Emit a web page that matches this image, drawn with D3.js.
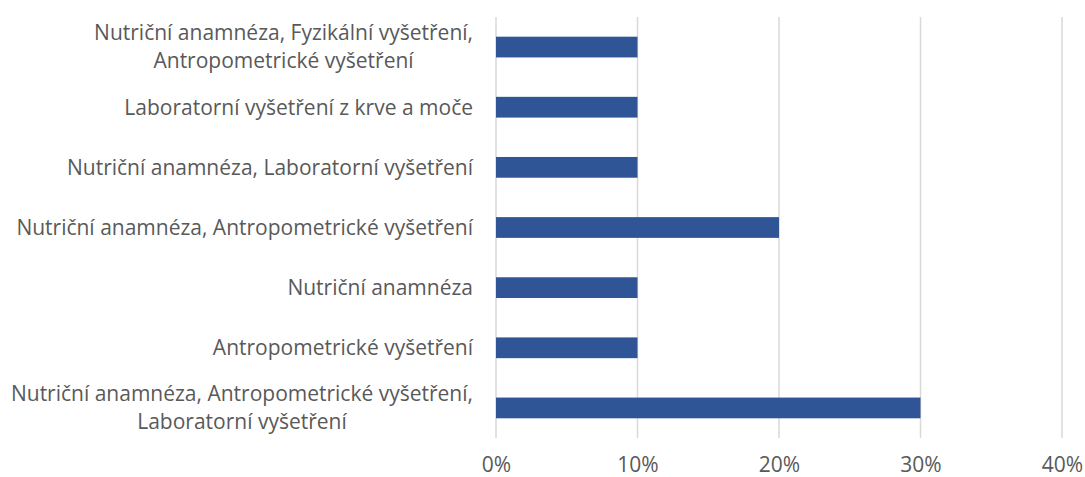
<!DOCTYPE html>
<html>
<head>
<meta charset="utf-8">
<script src="https://cdn.jsdelivr.net/npm/d3@7"></script>
<style>
  body { margin: 0; background: #fff; }
  svg text { font-family: "Open Sans", sans-serif; fill: #595959; }
</style>
</head>
<body>
<div id="chart"></div>
<script>
// categories, top to bottom (line breaks as in the original)
var categories = [
  "Nutriční anamnéza, Fyzikální vyšetření,\nAntropometrické vyšetření",
  "Laboratorní vyšetření z krve a moče",
  "Nutriční anamnéza, Laboratorní vyšetření",
  "Nutriční anamnéza, Antropometrické vyšetření",
  "Nutriční anamnéza",
  "Antropometrické vyšetření",
  "Nutriční anamnéza, Antropometrické vyšetření,\nLaboratorní vyšetření"
];
var values = [0.10, 0.10, 0.10, 0.20, 0.10, 0.10, 0.30];
var ticks = [0, 0.1, 0.2, 0.3, 0.4];

var W = 1085, H = 477;
var margin = {top: 17, right: 23, bottom: 39, left: 496};
var width = W - margin.left - margin.right,
    height = H - margin.top - margin.bottom;

var svg = d3.select("#chart").append("svg")
  .attr("width", W)
  .attr("height", H)
  .append("g")
  .attr("transform", "translate(" + margin.left + "," + margin.top + ")");

var xScale = d3.scaleLinear()
  .domain([0, 0.4])
  .range([0, width]);

var yScale = d3.scaleBand()
  .domain(categories)
  .range([0, height])
  .paddingInner(0.655)
  .paddingOuter(0.3275);

// gridlines
svg.append("g")
  .selectAll("line")
  .data(ticks)
  .enter().append("line")
  .attr("x1", function(d) { return xScale(d); })
  .attr("x2", function(d) { return xScale(d); })
  .attr("y1", 0)
  .attr("y2", height)
  .attr("stroke", "#d9d9d9")
  .attr("stroke-width", 1.5);

// bars
svg.append("g")
  .selectAll("rect")
  .data(values)
  .enter().append("rect")
  .attr("x", xScale(0))
  .attr("y", function(d, i) { return yScale(categories[i]); })
  .attr("width", function(d) { return xScale(d) - xScale(0); })
  .attr("height", yScale.bandwidth())
  .attr("fill", "#2f5597");

// x axis labels
var xAxis = svg.append("g")
  .attr("transform", "translate(0," + height + ")")
  .call(d3.axisBottom(xScale).tickValues(ticks).tickFormat(d3.format(".0%")).tickSize(0).tickPadding(19));
xAxis.select(".domain").remove();
xAxis.selectAll("text")
  .attr("fill", "#595959")
  .style("font-size", "21px")
  .style("font-family", "'Open Sans', sans-serif");

// category labels (multi-line ones are centred within their block)
var labelRight = -23;
var lineH = 28;
var labels = svg.append("g");
categories.forEach(function(c) {
  var lines = c.split("\n");
  var cy = yScale(c) + yScale.bandwidth() / 2;
  var t = labels.append("text")
    .style("font-size", "21px");
  lines.forEach(function(l, j) {
    t.append("tspan")
      .attr("y", cy - (lines.length - 1) * lineH / 2 + j * lineH)
      .attr("dy", "0.35em")
      .text(l);
  });
  if (lines.length == 1) {
    t.attr("text-anchor", "end");
    t.selectAll("tspan").attr("x", labelRight);
  } else {
    var maxW = 0;
    t.selectAll("tspan").each(function() {
      maxW = Math.max(maxW, this.getComputedTextLength());
    });
    t.attr("text-anchor", "middle");
    t.selectAll("tspan").attr("x", labelRight - maxW / 2);
  }
});
</script>
</body>
</html>
